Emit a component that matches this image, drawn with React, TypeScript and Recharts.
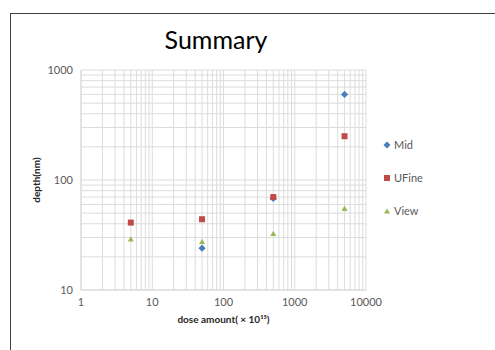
import React from "react";
import { ScatterChart, Scatter, XAxis, YAxis, CartesianGrid } from "recharts";

const doses = [5, 50, 500, 5000];
const midDoses = [50, 500, 5000];
const midValues = [24, 68, 600];
const ufineValues = [41, 44, 70, 250];
const viewValues = [29, 27.5, 32.5, 55];

const xTicks = [1, 2, 3, 4, 5, 6, 7, 8, 9, 10, 20, 30, 40, 50, 60, 70, 80, 90, 100, 200, 300, 400, 500, 600, 700, 800, 900, 1000, 2000, 3000, 4000, 5000, 6000, 7000, 8000, 9000, 10000];
const yTicks = [10, 20, 30, 40, 50, 60, 70, 80, 90, 100, 200, 300, 400, 500, 600, 700, 800, 900, 1000];
const majorX = [1, 10, 100, 1000, 10000];
const majorY = [10, 100, 1000];

const seriesNames = ["Mid", "UFine", "View"];
const seriesColors = ["#4a7ebb", "#be4b48", "#98b954"];

const midData = midDoses.map((d, i) => ({ x: d, y: midValues[i] }));
const ufineData = doses.map((d, i) => ({ x: d, y: ufineValues[i] }));
const viewData = doses.map((d, i) => ({ x: d, y: viewValues[i] }));

const FONT = "Lato, 'Open Sans', sans-serif";

const Diamond = (props: any) => {
  const { cx, cy } = props;
  const r = 3.6;
  return <polygon points={`${cx},${cy - r} ${cx + r},${cy} ${cx},${cy + r} ${cx - r},${cy}`} fill={seriesColors[0]} />;
};
const Square = (props: any) => {
  const { cx, cy } = props;
  const s = 6;
  return <rect x={cx - s / 2} y={cy - s / 2} width={s} height={s} fill={seriesColors[1]} />;
};
const Triangle = (props: any) => {
  const { cx, cy } = props;
  const r = 3;
  return <polygon points={`${cx},${cy - r} ${cx + r},${cy + r * 0.8} ${cx - r},${cy + r * 0.8}`} fill={seriesColors[2]} />;
};

const legendShapes = [
  (c: string) => <polygon points="4,0.5 7.5,4 4,7.5 0.5,4" fill={c} />,
  (c: string) => <rect x={1} y={1} width={6} height={6} fill={c} />,
  (c: string) => <polygon points="4,1.5 7,6.5 1,6.5" fill={c} />,
];

const LegendBox = () => (
  <div style={{ position: "absolute", left: 383, top: 128, width: 80, fontFamily: FONT, fontSize: 11, color: "#595959" }}>
    {seriesNames.map((n, i) => (
      <div key={n} style={{ height: 33, display: "flex", alignItems: "center" }}>
        <svg width={8} height={8} style={{ marginRight: 3 }}>{legendShapes[i](seriesColors[i])}</svg>
        <span>{n}</span>
      </div>
    ))}
  </div>
);

export default function App() {
  return (
    <div style={{ position: "absolute", left: 0, top: 0, width: 495, height: 350, background: "#fff" }}>
      <div style={{ position: "absolute", left: 10, top: 13, width: 484, height: 336, borderTop: "1.5px solid #404040", borderLeft: "1.5px solid #404040" }} />
      <div style={{ position: "absolute", left: 0, width: 432, top: 24, textAlign: "center", fontFamily: FONT, fontSize: 25, color: "#000" }}>Summary</div>
      <div style={{ position: "absolute", left: 0, top: 0 }}>
        <ScatterChart width={495} height={350} margin={{ top: 70, right: 129, bottom: 20, left: 20 }}>
          <CartesianGrid stroke="#dcdcdc" strokeWidth={1} />
          <XAxis
            type="number"
            dataKey="x"
            scale="log"
            domain={[1, 10000]}
            ticks={xTicks}
            interval={0}
            allowDataOverflow
            tickLine={false}
            axisLine={{ stroke: "#d9d9d9" }}
            height={40}
            tick={{ fontSize: 11, fill: "#595959", fontFamily: FONT }}
            tickFormatter={(v: number) => (majorX.includes(v) ? String(v) : "")}
            label={{ value: "dose amount( × 10¹⁵)", position: "insideBottom", offset: 7, style: { fontSize: 10, fontWeight: 700, fill: "#262626", fontFamily: FONT } }}
          />
          <YAxis
            type="number"
            dataKey="y"
            scale="log"
            domain={[10, 1000]}
            ticks={yTicks}
            interval={0}
            allowDataOverflow
            tickLine={false}
            axisLine={{ stroke: "#d9d9d9" }}
            width={61}
            tick={{ fontSize: 11, fill: "#595959", fontFamily: FONT }}
            tickFormatter={(v: number) => (majorY.includes(v) ? String(v) : "")}
            label={{ value: "depth(nm)", angle: -90, position: "insideLeft", offset: 16, style: { textAnchor: "middle", fontSize: 10, fontWeight: 700, fill: "#262626", fontFamily: FONT } }}
          />
          <Scatter name="Mid" data={midData} shape={Diamond} isAnimationActive={false} />
          <Scatter name="UFine" data={ufineData} shape={Square} isAnimationActive={false} />
          <Scatter name="View" data={viewData} shape={Triangle} isAnimationActive={false} />
        </ScatterChart>
      </div>
      <LegendBox />
    </div>
  );
}
